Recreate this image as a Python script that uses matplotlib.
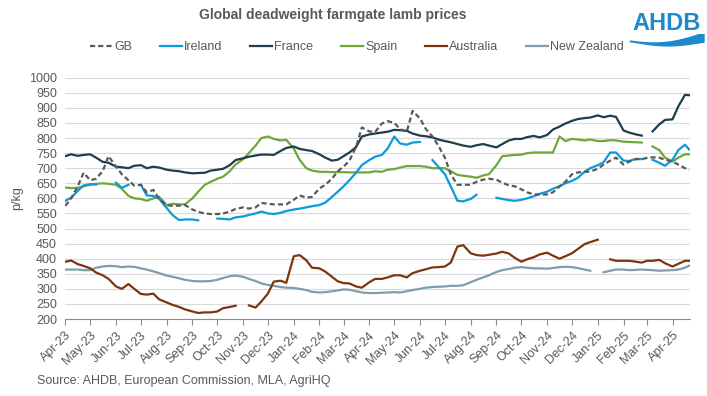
import numpy as np
import pandas as pd
import matplotlib
matplotlib.use('Agg')
import matplotlib.pyplot as plt
import matplotlib.dates as mdates

plt.rcParams['font.family'] = ['Liberation Sans', 'DejaVu Sans']

# sample dates: 1st, 8th, 16th and 23rd of each month, last one is 21 Apr 2025
months = pd.date_range('2023-04-01', '2025-04-01', freq='MS')
dates = [m + pd.Timedelta(days=d) for m in months for d in (0, 7, 15, 22)]
dates[-1] = pd.Timestamp('2025-04-21')

N = None

gb = [575, 600, 640, 685,   # Apr-23
      660, 665, 690, 740,   # May-23
      705, 680, 660, 642,   # Jun-23
      645, 620, 628, 598,   # Jul-23
      578, 575, 576, 578,   # Aug-23
      563, 555, 550, 548,   # Sep-23
      548, 550, 556, 565,   # Oct-23
      570, 566, 570, 585,   # Nov-23
      582, 580, 580, 580,   # Dec-23
      595, 610, 602, 605,   # Jan-24
      633, 645, 665, 690,   # Feb-24
      705, 725, 770, 835,   # Mar-24
      822, 820, 848, 856,   # Apr-24
      850, 830, 820, 890,   # May-24
      865, 830, 805, 775,   # Jun-24
      735, 680, 645, 645,   # Jul-24
      645, 655, 662, 665,   # Aug-24
      662, 652, 643, 640,   # Sep-24
      630, 620, 613, 613,   # Oct-24
      613, 620, 640, 655,   # Nov-24
      680, 686, 688, 689,   # Dec-24
      698, 712, 725, 735,   # Jan-25
      712, 722, 730, 730,   # Feb-25
      734, 736, 735, 728,   # Mar-25
      722, 712, 700, 693]   # Apr-25

ireland = [592, 602, 625, 643,
           647, 646, N, N,
           652, 635, 645, N,
           645, 610, 608, 598,
           568, 545, 528, 530,
           530, 527, N, N,
           533, 532, 530, 537,
           540, 545, 550, 556,
           550, 548, 552, 558,
           563, 566, 570, 574,
           578, 586, 605, 622,
           640, 660, 685, 710,
           727, 738, 744, 765,
           805, 782, 778, 785,
           787, N, 727, 705,
           680, 640, 592, 590,
           598, 612, N, N,
           602, 598, 594, 592,
           595, 600, 607, 615,
           622, 632, 640, 650,
           658, 668, 688, 700,
           710, 720, 752, 752,
           725, 724, 731, 730,
           N, 728, 718, 708,
           728, 760, 778, 762]

france = [740, 746, 741, 744,
          746, 735, 721, 718,
          705, 703, 700, 708,
          710, 700, 705, 702,
          695, 692, 690, 686,
          683, 684, 685, 692,
          695, 698, 710, 727,
          733, 738, 742, 745,
          745, 744, 757, 767,
          772, 764, 760, 757,
          746, 735, 725, 728,
          740, 752, 770, 805,
          812, 815, 818, 821,
          827, 826, 824, 815,
          808, 806, 802, 795,
          790, 786, 780, 775,
          771, 776, 780, 775,
          769, 780, 792, 797,
          797, 803, 807, 802,
          810, 828, 838, 848,
          857, 863, 866, 868,
          875, 869, 874, 870,
          825, 818, 812, 808,
          N, 822, 845, 860,
          862, 905, 943, 942]

spain = [636, 634, 635, 640,
         645, 648, 650, 648,
         645, 632, 608, 600,
         598, 592, 600, 605,
         577, 582, 580, 580,
         600, 622, 645, 655,
         665, 672, 690, 712,
         730, 750, 775, 800,
         805, 797, 792, 794,
         765, 728, 700, 692,
         688, 688, 687, 687,
         687, 686, 686, 686,
         686, 690, 688, 695,
         697, 702, 707, 707,
         707, 705, 700, 700,
         700, 690, 678, 675,
         672, 668, 676, 680,
         710, 740, 742, 744,
         745, 750, 752, 752,
         752, 752, 805, 790,
         797, 795, 792, 795,
         790, 790, 793, 792,
         788, 787, 786, 785,
         N, 772, 760, 735,
         722, 735, 746, 746]

australia = [390, 394, 382, 376,
             368, 354, 345, 333,
             308, 300, 316, 300,
             283, 281, 284, 265,
             255, 247, 240, 232,
             225, 220, 222, 222,
             225, 236, 240, 244,
             N, 245, 238, 258,
             285, 324, 327, 320,
             408, 412, 395, 370,
             368, 357, 340, 325,
             319, 318, 308, 304,
             322, 333, 333, 338,
             345, 345, 338, 352,
             360, 365, 371, 372,
             374, 387, 440, 445,
             418, 412, 410, 413,
             417, 423, 417, 403,
             390, 398, 405, 414,
             420, 410, 400, 408,
             418, 432, 448, 455,
             463, N, 398, 393,
             393, 393, 390, 387,
             393, 393, 396, 385,
             374, 383, 393, 393]

new_zealand = [364, 364, 364, 362,
               362, 370, 374, 376,
               375, 372, 374, 373,
               368, 364, 358, 352,
               344, 340, 335, 330,
               326, 325, 325, 326,
               330, 336, 342, 344,
               340, 333, 326, 318,
               313, 310, 306, 304,
               303, 300, 296, 290,
               288, 289, 292, 295,
               298, 297, 292, 288,
               286, 286, 287, 288,
               289, 288, 292, 296,
               300, 304, 306, 307,
               308, 310, 310, 312,
               322, 330, 338, 345,
               356, 362, 366, 370,
               372, 370, 368, 368,
               367, 369, 372, 373,
               372, 369, 364, 360,
               N, 355, 360, 364,
               364, 362, 363, 364,
               363, 362, 360, 361,
               362, 364, 370, 377]

names = ['GB', 'Ireland', 'France', 'Spain', 'Australia', 'New Zealand']
colours = ['#595959', '#0A9BDA', '#1E3D4D', '#6DA839', '#7E3411', '#7F9DAB']
series = [gb, ireland, france, spain, australia, new_zealand]

grey = '#595959'

fig = plt.figure(figsize=(7.07, 3.96), dpi=100)
ax = fig.add_axes([0.0924, 0.1944, 0.8835, 0.6094])

# draw back to front so France/GB sit on top as in the original
order = [5, 4, 3, 1, 2, 0]
handles = {}
for i in order:
    y = np.array([np.nan if v is None else v for v in series[i]], dtype=float)
    if names[i] == 'GB':
        ln, = ax.plot(dates, y, color=colours[i], lw=1.6, ls=(0, (2.3, 1.4)), zorder=5)
    else:
        ln, = ax.plot(dates, y, color=colours[i], lw=1.6, zorder=3)
    handles[names[i]] = ln

ax.set_ylim(200, 1000)
ax.set_yticks(np.arange(200, 1001, 50))
ax.set_xlim(pd.Timestamp('2023-04-01'), pd.Timestamp('2025-04-22'))
ax.xaxis.set_major_locator(mdates.MonthLocator())
ax.xaxis.set_major_formatter(mdates.DateFormatter('%b-%y'))

ax.grid(axis='y', color='#D9D9D9', lw=0.8)
ax.set_axisbelow(True)
for s in ['top', 'right', 'left']:
    ax.spines[s].set_visible(False)
ax.spines['bottom'].set_color('#8C8C8C')
ax.tick_params(axis='y', length=0, labelsize=9, labelcolor=grey, pad=6)
ax.tick_params(axis='x', length=4, color='#8C8C8C', labelsize=9, labelcolor=grey)
plt.setp(ax.get_xticklabels(), rotation=45, ha='right', rotation_mode='anchor')
ax.set_ylabel('p/kg', fontsize=9, color=grey, labelpad=4)

fig.text(0.471, 0.962, 'Global deadweight farmgate lamb prices', ha='center', va='center',
         fontsize=10, fontweight='bold', color=grey)

leg = fig.legend([handles[n] for n in names], names, loc='center', ncol=6,
                 bbox_to_anchor=(0.505, 0.881), frameon=False, fontsize=9,
                 handlelength=1.75, handletextpad=0.2, columnspacing=2.2)
for t in leg.get_texts():
    t.set_color(grey)

fig.text(0.052, 0.038, 'Source: AHDB, European Commission, MLA, AgriHQ', ha='left', va='center',
         fontsize=9, color=grey)

# AHDB logo
logo_blue = '#1D8ACB'
fig.text(0.943, 0.94, 'AHDB', ha='center', va='center', fontsize=17,
         fontweight='bold', color=logo_blue)
lax = fig.add_axes([0.89, 0.875, 0.106, 0.04])
lax.axis('off')
t = np.linspace(0, 1, 80)
mid = 0.55 - 0.3 * np.sin(np.pi * t) + 0.25 * t
thick = 0.12 + 0.55 * t ** 1.5
lax.fill_between(t, mid - thick / 2, mid + thick / 2, color=logo_blue, lw=0)
lax.set_xlim(0, 1)
lax.set_ylim(0, 1)

fig.savefig('out.png', dpi=100)
